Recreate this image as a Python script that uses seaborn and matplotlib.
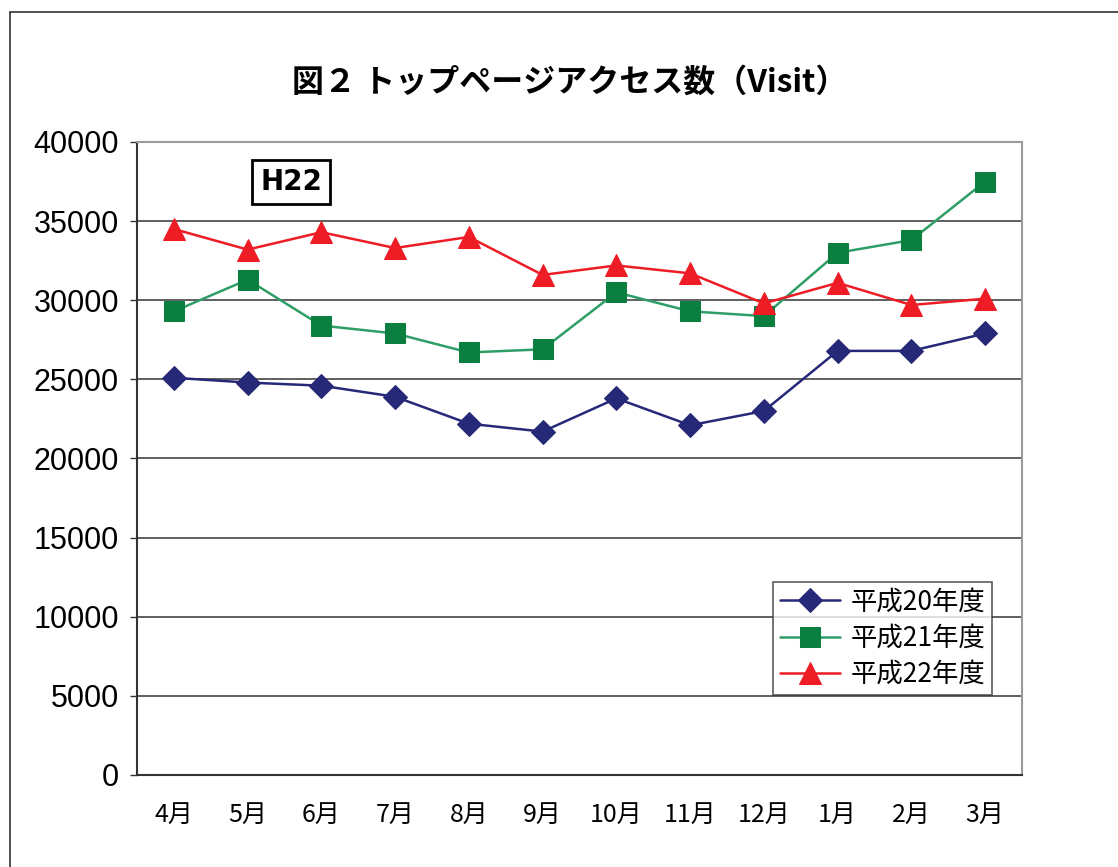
import pandas as pd
import matplotlib
matplotlib.use("Agg")
import matplotlib.pyplot as plt
import seaborn as sns

months = ["4月", "5月", "6月", "7月", "8月", "9月",
          "10月", "11月", "12月", "1月", "2月", "3月"]
h20 = [25100, 24800, 24600, 23900, 22200, 21700,
       23800, 22100, 23000, 26800, 26800, 27900]
h21 = [29300, 31300, 28400, 27900, 26700, 26900,
       30500, 29300, 29000, 33000, 33800, 37500]
h22 = [34500, 33200, 34300, 33300, 34000, 31600,
       32200, 31700, 29800, 31100, 29700, 30100]
series_names = ["平成20年度", "平成21年度", "平成22年度"]
y_ticks = [0, 5000, 10000, 15000, 20000, 25000, 30000, 35000, 40000]

sns.set_style("white")
plt.rcParams["font.family"] = ["Noto Sans CJK JP", "DejaVu Sans"]
plt.rcParams["text.color"] = "black"
plt.rcParams["xtick.color"] = "black"
plt.rcParams["ytick.color"] = "black"

fig = plt.figure(figsize=(11.18, 8.67), dpi=100)
ax = fig.add_axes([137 / 1118, 1 - 775 / 867, 885 / 1118, 633 / 867])

x = list(range(len(months)))
styles = [
    (h20, "#262878", "#262878", "D", 12),
    (h21, "#2E9E66", "#0B7F3F", "s", 14),
    (h22, "#EE1C25", "#EE1C25", "^", 16),
]
for (vals, lc, mc, mk, ms), name in zip(styles, series_names):
    sns.lineplot(x=x, y=vals, ax=ax, color=lc, marker=mk, markersize=ms,
                 markerfacecolor=mc, markeredgecolor=mc, linewidth=1.8,
                 label=name, zorder=3)

ax.set_xlim(-0.5, 11.5)
ax.set_ylim(0, 40000)
ax.set_yticks(y_ticks)
ax.set_yticklabels([str(v) for v in y_ticks], family="Liberation Sans",
                   fontsize=22)
ax.set_xticks(x)
ax.set_xticklabels(months, fontsize=18)
ax.set_xticks([i - 0.5 for i in range(13)], minor=True)
ax.tick_params(axis="x", which="major", length=0, pad=19)
ax.tick_params(axis="x", which="minor", direction="in", length=7,
               width=1, color="#333333")
ax.tick_params(axis="y", which="major", direction="out", length=5,
               width=1, color="#333333", left=True, pad=8)
ax.set_xlabel("")
ax.set_ylabel("")

ax.yaxis.grid(True, color="#444444", linewidth=1.2)
ax.set_axisbelow(True)
for side in ["left", "bottom"]:
    ax.spines[side].set_color("#333333")
    ax.spines[side].set_linewidth(1.5)
for side in ["top", "right"]:
    ax.spines[side].set_color("#9a9a9a")
    ax.spines[side].set_linewidth(1.5)

ax.text(0.174, 0.937, "H22", transform=ax.transAxes, fontsize=20,
        fontweight="bold", family="DejaVu Sans", ha="center",
        va="center",
        bbox=dict(boxstyle="square,pad=0.3", facecolor="white",
                  edgecolor="black", linewidth=2))

leg = ax.legend(loc="upper left", bbox_to_anchor=(0.7186, 0.305),
                fontsize=19, frameon=True, fancybox=False,
                handlelength=2.3, borderpad=0.25, labelspacing=0.35,
                handletextpad=0.4, borderaxespad=0)
leg.get_frame().set_edgecolor("#333333")
leg.get_frame().set_linewidth(1.2)

fig.text(570 / 1118, 1 - 83 / 867, "図２ トップページアクセス数（Visit）",
         fontsize=23, fontweight="bold", ha="center", va="center")

# outer frame
fig.add_artist(plt.Line2D([10 / 1118, 10 / 1118], [0, 1 - 12 / 867],
                          color="#333333", linewidth=1.2))
fig.add_artist(plt.Line2D([10 / 1118, 1], [1 - 12 / 867, 1 - 12 / 867],
                          color="#333333", linewidth=1.2))

fig.savefig("out.png", dpi=100)
